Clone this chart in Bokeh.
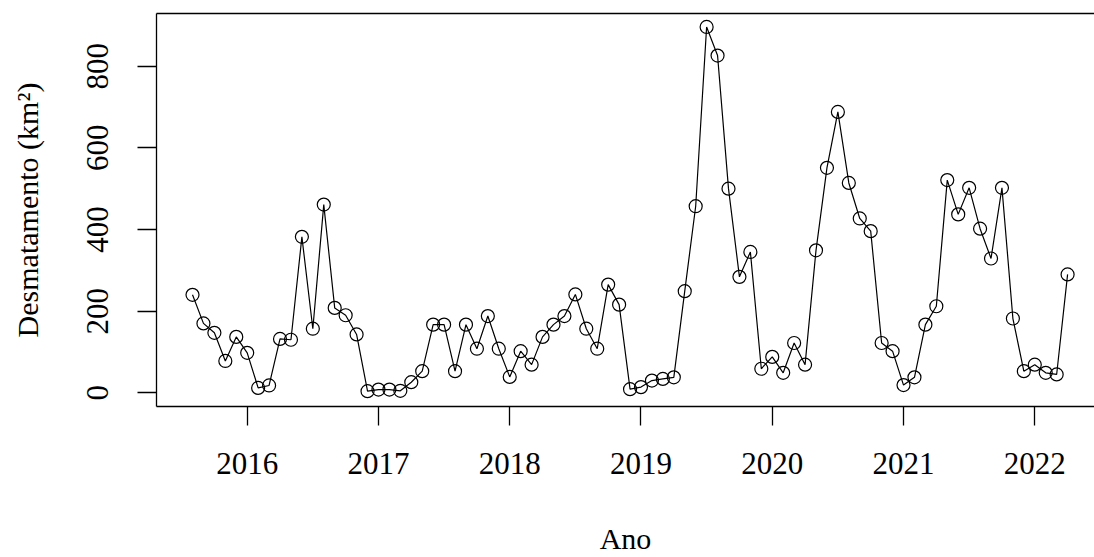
import pandas as pd
from bokeh.plotting import figure
from bokeh.models import LinearAxis, FixedTicker, ColumnDataSource
from bokeh.embed import file_html
from bokeh.resources import INLINE

# Monthly deforestation (km²), Aug 2015 .. Apr 2022
start_month = "2015-08-01"
values = [
    240, 170, 147, 78, 137,                                   # 2015 Aug-Dec
    98, 12, 18, 132, 130, 382, 157, 461, 208, 190, 143, 4,    # 2016
    8, 8, 5, 26, 53, 167, 167, 53, 167, 108, 188, 108,        # 2017
    39, 102, 69, 137, 167, 188, 241, 157, 108, 265, 216, 9,   # 2018
    14, 30, 34, 38, 249, 457, 896, 826, 500, 284, 345, 59,    # 2019
    88, 49, 122, 69, 349, 551, 688, 514, 427, 396, 122, 102,  # 2020
    19, 38, 167, 212, 521, 437, 502, 402, 329, 502, 182, 53,  # 2021
    69, 49, 45, 290,                                          # 2022 Jan-Apr
]
x_ticks = [2016, 2017, 2018, 2019, 2020, 2021, 2022]
y_ticks = [0, 200, 400, 600, 800]
x_label = "Ano"
y_label = "Desmatamento (km²)"

dates = pd.date_range(start_month, periods=len(values), freq="MS")
t = [d.year + (d.month - 1) / 12 for d in dates]
src = ColumnDataSource(dict(t=t, v=values))

FONT = "Liberation Serif"

p = figure(width=1094, height=557,
           x_range=(2015.309, 2022.455), y_range=(-33.5, 929),
           output_backend="svg", toolbar_location=None,
           x_axis_location=None, y_axis_location=None,
           min_border_left=156, min_border_right=0,
           min_border_top=13, min_border_bottom=151)
p.outline_line_color = None
p.grid.visible = False
p.background_fill_color = "white"
p.border_fill_color = "white"

xa = LinearAxis(ticker=FixedTicker(ticks=x_ticks), axis_label=x_label)
ya = LinearAxis(ticker=FixedTicker(ticks=y_ticks), axis_label=y_label)
for ax in (xa, ya):
    ax.major_tick_out = 19
    ax.major_tick_in = 0
    ax.minor_tick_line_color = None
    ax.axis_line_color = "black"
    ax.axis_line_width = 1.3
    ax.major_tick_line_color = "black"
    ax.major_tick_line_width = 1.3
    ax.major_label_text_font = FONT
    ax.major_label_text_font_size = "31px"
    ax.major_label_text_color = "black"
    ax.axis_label_text_font = FONT
    ax.axis_label_text_font_size = "30px"
    ax.axis_label_text_font_style = "normal"
    ax.axis_label_text_color = "black"
ya.major_label_orientation = "vertical"
ya.major_label_standoff = 29
ya.axis_label_standoff = 41
xa.major_label_standoff = 27
xa.axis_label_standoff = 45
p.add_layout(ya, "left")
p.add_layout(xa, "below")

top = LinearAxis(ticker=FixedTicker(ticks=[]), major_label_text_font_size="0px",
                 major_tick_out=0, major_tick_in=0, minor_tick_line_color=None,
                 major_label_standoff=0, axis_line_color="black", axis_line_width=1.3)
p.add_layout(top, "above")

p.line("t", "v", source=src, line_color="black", line_width=1.2)
p.scatter("t", "v", source=src, marker="circle", size=13,
          fill_color=None, line_color="black", line_width=1.2)

open("out.html", "w").write(file_html(p, INLINE))
